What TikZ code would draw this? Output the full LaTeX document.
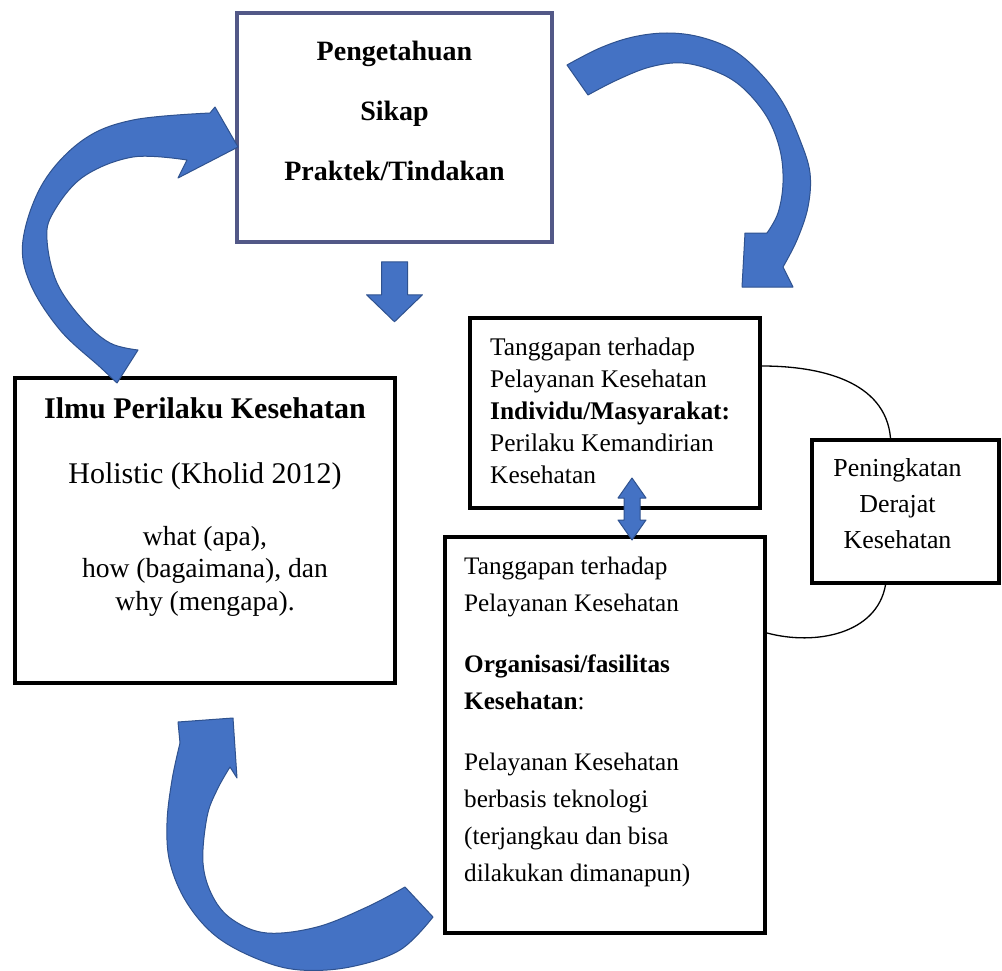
\documentclass[tikz,border=0pt]{standalone}
\usepackage{fontspec}
\setmainfont{Liberation Serif}
\usetikzlibrary{calc, positioning}
\definecolor{arrowblue}{RGB}{68,114,196}
\definecolor{arrowedge}{RGB}{47,82,143}
\definecolor{knowframe}{RGB}{82,88,135}

\begin{document}
\begin{tikzpicture}[x=1pt, y=-1pt,
  box/.style={draw, line width=4pt, inner sep=0pt},
  txt/.style={inner sep=0pt},
  blockarrow/.style={fill=arrowblue, draw=arrowedge, line width=1pt, line join=round},
  link/.style={line width=1.3pt}]
  % Canvas
  \useasboundingbox[fill=white] (0,0) rectangle (1002,971);

  % Top box
  \node[box, draw=knowframe, line width=3.5pt, minimum width=315pt, minimum height=229pt] (know) at (394.5,127.5) {};
  \node[txt, below=30pt of know.north, align=center, font=\fontsize{28}{60}\selectfont\bfseries] (knowtxt) {Pengetahuan\\Sikap\\Praktek/Tindakan};

  % Left box
  \node[box, minimum width=380pt, minimum height=305pt] (ilmu) at (205,530.5) {};
  \node[txt, below=21pt of ilmu.north, font=\fontsize{30}{36}\selectfont\bfseries] (ilmutitle) {Ilmu Perilaku Kesehatan};
  \node[txt, below=86pt of ilmu.north, font=\fontsize{30}{36}\selectfont] (holistic) {Holistic (Kholid 2012)};
  \node[txt, below=150pt of ilmu.north, align=center, font=\fontsize{27.6}{32.5}\selectfont] (questions) {what (apa),\\how (bagaimana), dan\\why (mengapa).};

  % Upper right box
  \node[box, minimum width=290pt, minimum height=190pt] (indiv) at (615,413) {};
  \node[txt, below right=21.5pt and 22pt of indiv.north west, align=left, font=\fontsize{25.4}{32}\selectfont] (indivtxt) {Tanggapan terhadap\\Pelayanan Kesehatan\\\textbf{Individu/Masyarakat:}\\Perilaku Kemandirian\\Kesehatan};

  % Lower right box
  \node[box, minimum width=320pt, minimum height=396pt] (org) at (605,735) {};
  \node[txt, below right=22pt and 21pt of org.north west, align=left, font=\fontsize{25.2}{37}\selectfont] (orgtxt) {Tanggapan terhadap\\Pelayanan Kesehatan\\[24pt]\textbf{Organisasi/fasilitas}\\\textbf{Kesehatan}:\\[24pt]Pelayanan Kesehatan\\berbasis teknologi\\(terjangkau dan bisa\\dilakukan dimanapun)};

  % Far right box
  \node[box, minimum width=187pt, minimum height=143pt] (derajat) at (905.5,511.5) {};
  \node[txt, below=20pt of derajat.north, xshift=-8pt, align=center, font=\fontsize{25.9}{36}\selectfont] (derajattxt) {Peningkatan\\Derajat\\Kesehatan};

  % Thin links
  \draw[link] ($(indiv.north east)+(0,50)$) to[out=0, in=95] ($(derajat.north)+(-15,0)$);
  \draw[link] ($(derajat.south)+(-20,0)$) to[out=-100, in=-15] ($(org.north east)+(0,98)$);

  % Curved arrow, left box to top box
  \path[blockarrow] plot[smooth, tension=.6] coordinates {(117,383) (100,367) (60,330) (30,283) (23,240) (43,183) (83,140) (133,120) (210,113)}
    -- (215,107) -- (238,147) -- (178,178)
    -- plot[smooth, tension=.6] coordinates {(187,160) (133,157) (83,177) (53,213) (47,240) (57,283) (83,320) (110,343) (138,350)} -- cycle;

  % Curved arrow, top box to upper right box
  \path[blockarrow] plot[smooth, tension=.6] coordinates {(567,65) (600,48) (633,37) (667,33) (700,37) (733,50) (760,73) (783,103) (800,140) (810,173) (808,207) (797,240) (783,267)}
    -- (793,287) -- (742,287) -- (745,233)
    -- plot[smooth, tension=.6] coordinates {(767,233) (778,213) (783,183) (780,150) (767,117) (743,88) (717,72) (683,63) (650,67) (617,80) (588,95)} -- cycle;

  % Curved arrow, lower right box to left box
  \path[blockarrow] (233,718) -- (178,722)
    -- plot[smooth, tension=.6] coordinates {(180,743) (172,780) (167,823) (170,863) (187,903) (217,937) (260,960) (300,970) (350,967) (400,950) (433,917)}
    -- plot[smooth, tension=.6] coordinates {(405,887) (367,907) (317,927) (267,933) (233,920) (213,897) (203,863) (207,817) (217,790) (230,767)}
    -- (237,778) -- cycle;

  % Down arrow
  \coordinate[below=18pt of know.south] (downtop);
  \path[blockarrow] ($(downtop)+(-13,0)$) -- ++(26,0) -- ++(0,33) -- ++(15,0) -- ++(-28,27) -- ++(-28,-27) -- ++(15,0) -- cycle;

  % Double arrow
  \coordinate (dbltop) at (632,478);
  \path[blockarrow] (dbltop) -- ++(14,20) -- ++(-6,0) -- ++(0,22) -- ++(6,0) -- ++(-14,20) -- ++(-14,-20) -- ++(6,0) -- ++(0,-22) -- ++(-6,0) -- cycle;
\end{tikzpicture}
\end{document}
